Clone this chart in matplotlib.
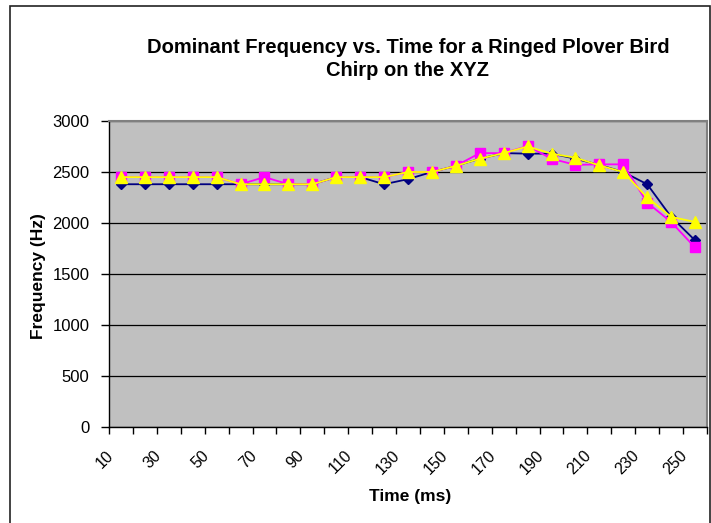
"""Dominant frequency vs. time chart (Excel style)."""

import matplotlib

matplotlib.use("Agg")
matplotlib.rcParams["font.family"] = ["Liberation Sans", "DejaVu Sans"]
import matplotlib.pyplot as plt
import matplotlib.transforms as mtransforms
from matplotlib.patches import Rectangle

time_ms = [10, 20, 30, 40, 50, 60, 70, 80, 90, 100, 110, 120, 130,
           140, 150, 160, 170, 180, 190, 200, 210, 220, 230, 240, 250]
freq_x = [2380, 2380, 2380, 2380, 2380, 2380, 2380, 2380, 2380, 2450, 2450, 2380, 2430,
          2500, 2560, 2630, 2685, 2680, 2680, 2630, 2570, 2500, 2380, 2060, 1830]
freq_y = [2450, 2450, 2450, 2450, 2450, 2380, 2450, 2380, 2380, 2450, 2450, 2450, 2500,
          2500, 2560, 2685, 2685, 2755, 2630, 2570, 2575, 2575, 2200, 2010, 1760]
freq_z = [2450, 2450, 2450, 2450, 2450, 2380, 2380, 2380, 2380, 2450, 2450, 2450, 2500,
          2500, 2560, 2630, 2685, 2750, 2680, 2640, 2565, 2500, 2250, 2060, 2010]
y_ticks = [0, 500, 1000, 1500, 2000, 2500, 3000]

W, H = 711, 523
fig = plt.figure(figsize=(W / 100, H / 100), dpi=100)

# outer chart border (cropped at right/bottom in the original)
fig.patches.append(Rectangle((9.5 / W, -0.01), (709.5 - 9.5) / W, 1.01 - 5.5 / H,
                             transform=fig.transFigure, fill=False,
                             edgecolor="#222222", linewidth=1.2))

ax = fig.add_axes([109 / W, 1 - 427 / H, (707 - 109) / W, (427 - 121) / H])
ax.set_facecolor("#C0C0C0")

idx = list(range(len(time_ms)))
ax.plot(idx, freq_x, color="#000080", lw=1.3, marker="D", ms=5.5,
        mfc="#000080", mec="#000080", zorder=3)
ax.plot(idx, freq_y, color="#FF00FF", lw=1.3, marker="s", ms=6.5,
        mfc="#FF00FF", mec="#FF00FF", zorder=4)
ax.plot(idx, freq_z, color="#FFFF00", lw=1.3, marker="^", ms=8,
        mfc="#FFFF00", mec="#FFFF00", zorder=5)

ax.set_xlim(-0.5, len(time_ms) - 0.5)
ax.set_ylim(0, 3000)
ax.set_yticks(y_ticks)
ax.set_yticklabels([str(v) for v in y_ticks], fontsize=12)
ax.yaxis.grid(True, color="black", linewidth=0.9)
ax.set_axisbelow(True)

# ticks on category boundaries, labels on every other category
ax.set_xticks([i - 0.5 for i in range(len(time_ms) + 1)])
ax.set_xticklabels([])
ax.set_xticks(idx[::2], minor=True)
ax.set_xticklabels([str(t) for t in time_ms[::2]], minor=True,
                   rotation=45, ha="right", va="top", fontsize=11.5)
ax.tick_params(axis="x", which="minor", length=0, pad=15)
ax.tick_params(axis="x", which="major", length=5, width=1, color="black")
ax.tick_params(axis="y", length=6, width=1, color="black", pad=8)
shift = mtransforms.ScaledTranslation(-5 / 100, 0, fig.dpi_scale_trans)
for lbl in ax.get_xticklabels(minor=True):
    lbl.set_transform(lbl.get_transform() + shift)

for side in ("top", "right"):
    ax.spines[side].set_color("#808080")
    ax.spines[side].set_linewidth(1.5)
for side in ("left", "bottom"):
    ax.spines[side].set_color("black")
    ax.spines[side].set_linewidth(1.0)

fig.text(408 / W, 1 - 59 / H,
         "Dominant Frequency vs. Time for a Ringed Plover Bird\nChirp on the XYZ",
         ha="center", va="center", fontsize=14.5, fontweight="bold", linespacing=1.3)
fig.text(38 / W, 1 - 276 / H, "Frequency (Hz)", rotation=90, ha="center", va="center",
         fontsize=12.5, fontweight="bold")
fig.text(410 / W, 1 - 497 / H, "Time (ms)", ha="center", va="center",
         fontsize=12.5, fontweight="bold")

fig.savefig("out.png", dpi=100, facecolor="white")
